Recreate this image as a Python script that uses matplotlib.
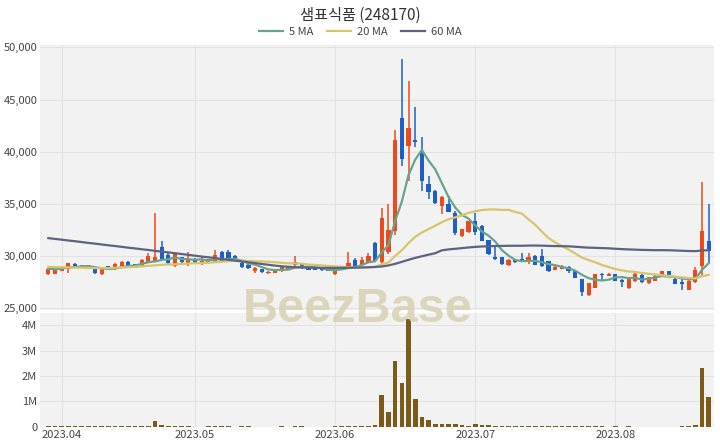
import matplotlib
matplotlib.use('Agg')
import matplotlib.pyplot as plt
from matplotlib.lines import Line2D
import numpy as np
import pandas as pd

# trading days shown (KRX closed on these weekdays)
holidays = ['2023-05-01', '2023-05-05', '2023-06-06', '2023-08-15']
dates = pd.bdate_range('2023-03-30', '2023-08-22')
dates = dates[~dates.isin(pd.to_datetime(holidays))]

opens = [28300, 28300, 28550, 28720, 29200, 29000, 29100, 28870, 28300, 29000,
         28720, 29000, 29450, 29200, 29000, 29400, 29500, 30800, 30100, 29050,
         29850, 29300, 29700, 29200, 29450, 29400, 30350, 30400, 29950, 29350,
         29100, 28500, 28700, 28350, 28400, 28500, 28650, 29100, 29300, 28800,
         28800, 28700, 28650, 28300, 28800, 28950, 29600, 29100, 29400, 31200,
         29400, 30400, 32400, 43250, 40500, 41100, 39900, 36900, 36200, 34800,
         35000, 34100, 31900, 32250, 33300, 32900, 31500, 29900, 29850, 29100,
         29600, 29700, 29400, 30000, 30000, 29500, 28650, 28750, 28950, 28550,
         27750, 26200, 26950, 28300, 28100, 28250, 27700, 26900, 27550, 28200,
         27350, 27600, 28100, 28500, 27800, 27500, 26750, 27450, 29050, 31450]
highs = [28800, 28750, 28900, 29350, 29350, 29150, 29150, 28900, 28800, 29050,
         29300, 29550, 29500, 29250, 29650, 30300, 34150, 31450, 30300, 30300,
         29900, 30400, 29750, 29850, 29700, 30550, 30450, 30600, 30050, 29400,
         29350, 28900, 28750, 28500, 28650, 29000, 29050, 30000, 29350, 28850,
         28850, 28750, 28700, 28750, 29050, 30400, 29800, 29850, 30300, 31300,
         34600, 35000, 42100, 48900, 46800, 44250, 41400, 37700, 36300, 35700,
         35700, 34300, 32600, 33350, 34150, 33000, 31550, 31000, 29900, 29650,
         29650, 30300, 30300, 30050, 30650, 29550, 29000, 29100, 29050, 28650,
         27800, 27400, 28300, 28350, 28350, 28300, 27800, 27800, 28350, 28250,
         28000, 28150, 28550, 28550, 27850, 27800, 27650, 28900, 37050, 34950]
lows = [28150, 28250, 28500, 28400, 28950, 28950, 28750, 28250, 28150, 28650,
        28650, 28950, 28950, 28800, 28950, 29350, 29450, 29500, 29100, 28900,
        29300, 29050, 29350, 29100, 29400, 29350, 29500, 29550, 29550, 28850,
        28750, 28400, 28400, 28300, 28350, 28450, 28600, 28900, 28750, 28600,
        28600, 28550, 28500, 28150, 28750, 28900, 28950, 29050, 29350, 29400,
        29100, 30200, 32000, 38650, 37200, 40400, 36250, 35500, 35000, 34000,
        34200, 32000, 31800, 32200, 32000, 31400, 30100, 29600, 29150, 29000,
        29350, 29450, 29200, 29100, 28950, 28450, 28600, 28700, 28400, 27850,
        26150, 26100, 26900, 27700, 28050, 27550, 27000, 26850, 27500, 27400,
        27300, 27550, 28050, 27950, 27250, 26700, 26700, 27400, 28100, 29350]
closes = [28750, 28700, 28850, 29300, 29000, 29100, 28800, 28350, 28770, 28700,
          29250, 29450, 29000, 28870, 29600, 30000, 29850, 29700, 29300, 30250,
          29400, 29700, 29400, 29550, 29650, 30100, 29550, 29600, 29600, 28900,
          28800, 28850, 28450, 28450, 28600, 28900, 29000, 29400, 28800, 28650,
          28650, 28600, 28550, 28700, 29000, 29300, 29000, 29600, 30000, 29500,
          33600, 32500, 41150, 39300, 42250, 40900, 37200, 36100, 35100, 35600,
          34250, 32150, 32550, 33300, 32250, 31450, 30150, 29700, 29200, 29600,
          29400, 29500, 29900, 29150, 29000, 28500, 28950, 29050, 28500, 27900,
          26500, 27350, 28250, 28150, 28300, 27600, 27500, 27750, 28300, 27450,
          27980, 28100, 28500, 28000, 27300, 27300, 27600, 28650, 32400, 30500]
volumes = [40000, 30000, 25000, 45000, 30000, 20000, 25000, 35000, 30000, 20000,
           30000, 35000, 25000, 20000, 30000, 45000, 240000, 70000, 35000, 40000,
           20000, 25000, 15000, 15000, 20000, 30000, 25000, 25000, 15000, 20000,
           20000, 15000, 15000, 12000, 15000, 20000, 15000, 45000, 20000, 15000,
           12000, 10000, 12000, 25000, 20000, 50000, 30000, 30000, 45000, 60000,
           1250000, 590000, 2600000, 1730000, 4230000, 1080000, 390000, 290000, 130000, 130000,
           130000, 100000, 70000, 50000, 100000, 80000, 70000, 40000, 30000, 25000,
           25000, 30000, 35000, 30000, 40000, 30000, 20000, 20000, 25000, 30000,
           45000, 35000, 30000, 20000, 15000, 20000, 15000, 20000, 15000, 15000,
           12000, 12000, 15000, 12000, 15000, 20000, 25000, 60000, 2320000, 1180000]

# the first sessions of the 20/60 MA need off-chart closes
ma20_head = [28950, 28920, 28900, 28890, 28870, 28860, 28840, 28820, 28810, 28820,
             28850, 28880, 28910, 28940, 28990, 29040, 29090, 29140, 29180]
ma60_head = [31700, 31620, 31550, 31470, 31400, 31320, 31240, 31170, 31090, 31010,
             30940, 30860, 30780, 30710, 30630, 30560, 30480, 30400, 30330, 30250,
             30170, 30090, 30010, 29930, 29860, 29780, 29700, 29620, 29540, 29460,
             29380, 29300, 29220, 29140, 29060, 29000, 28950, 28910, 28880, 28860,
             28850, 28840, 28840, 28840, 28850, 28860, 28870, 28880, 28900, 28930,
             28980, 29080, 29230, 29420, 29620, 29800, 29960, 30110, 30250]

c = pd.Series(closes, dtype=float)
ma5 = c.rolling(5, min_periods=1).mean()
ma20 = c.rolling(20).mean()
ma20.iloc[:len(ma20_head)] = ma20_head
ma60 = c.rolling(60).mean()
ma60.iloc[:len(ma60_head)] = ma60_head

x = np.arange(len(dates))
o = np.array(opens); cl = np.array(closes)
RED, BLUE = '#ec4a1c', '#1f5ec6'
cols = np.where(cl >= o, RED, BLUE)

plt.rcParams['font.family'] = ['Noto Sans CJK KR', 'DejaVu Sans']

fig = plt.figure(figsize=(7.2, 4.48), dpi=100)
ax = fig.add_axes([0.0556, 0.308, 0.936, 0.592])
axv = fig.add_axes([0.0556, 0.047, 0.936, 0.254], sharex=ax)

for a in (ax, axv):
    a.set_facecolor('#f2f2f2')
    for s in a.spines.values():
        s.set_visible(False)
    a.tick_params(length=0, labelsize=8, colors='#444444')
    a.grid(True, color='#e2e2e2', linewidth=0.8)
    a.set_axisbelow(True)

# candles
ax.vlines(x, lows, highs, color=cols, linewidth=1.1, zorder=2)
body_h = np.maximum(np.abs(cl - o), 60)
ax.bar(x, body_h, bottom=np.minimum(o, cl), width=0.62, color=cols, zorder=3)

ax.plot(x, ma5, color='#67a48c', linewidth=1.6, zorder=4)
ax.plot(x, ma20, color='#d8c46a', linewidth=1.6, zorder=4)
ax.plot(x, ma60, color='#5a6480', linewidth=1.6, zorder=4)

ax.set_ylim(24800, 50250)
ax.set_yticks([25000, 30000, 35000, 40000, 45000, 50000])
ax.set_yticklabels([f'{v:,}' for v in [25000, 30000, 35000, 40000, 45000, 50000]])
ax.tick_params(labelbottom=False, pad=2)

# volume
axv.bar(x, volumes, width=0.7, color='#7a5b17', zorder=3)
axv.set_ylim(0, 4.47e6)
axv.set_yticks([0, 1e6, 2e6, 3e6, 4e6])
axv.set_yticklabels(['0', '1M', '2M', '3M', '4M'])
axv.tick_params(pad=2)

month_idx = [i for i in range(1, len(dates)) if dates[i].month != dates[i - 1].month]
axv.set_xticks(month_idx)
axv.set_xticklabels([dates[i].strftime('%Y.%m') for i in month_idx])
axv.set_xlim(-1.25, 99.8)

fig.text(0.5, 0.966, '샘표식품 (248170)', ha='center', va='center',
         fontsize=11, color='#333333')
handles = [Line2D([], [], color='#67a48c', lw=1.6),
           Line2D([], [], color='#d8c46a', lw=1.6),
           Line2D([], [], color='#5a6480', lw=1.6)]
fig.legend(handles, ['5 MA', '20 MA', '60 MA'], loc='center', bbox_to_anchor=(0.5, 0.928),
           ncol=3, frameon=False, fontsize=8, handlelength=2.2, columnspacing=1.2,
           handletextpad=0.5, labelcolor='#444444')

fig.text(0.497, 0.31, 'BeezBase', ha='center', va='center', fontsize=35,
         fontweight='bold', family='Liberation Sans', color='#d8d1b2', alpha=0.85, zorder=10)

fig.savefig('out.png', dpi=100, facecolor='white')
